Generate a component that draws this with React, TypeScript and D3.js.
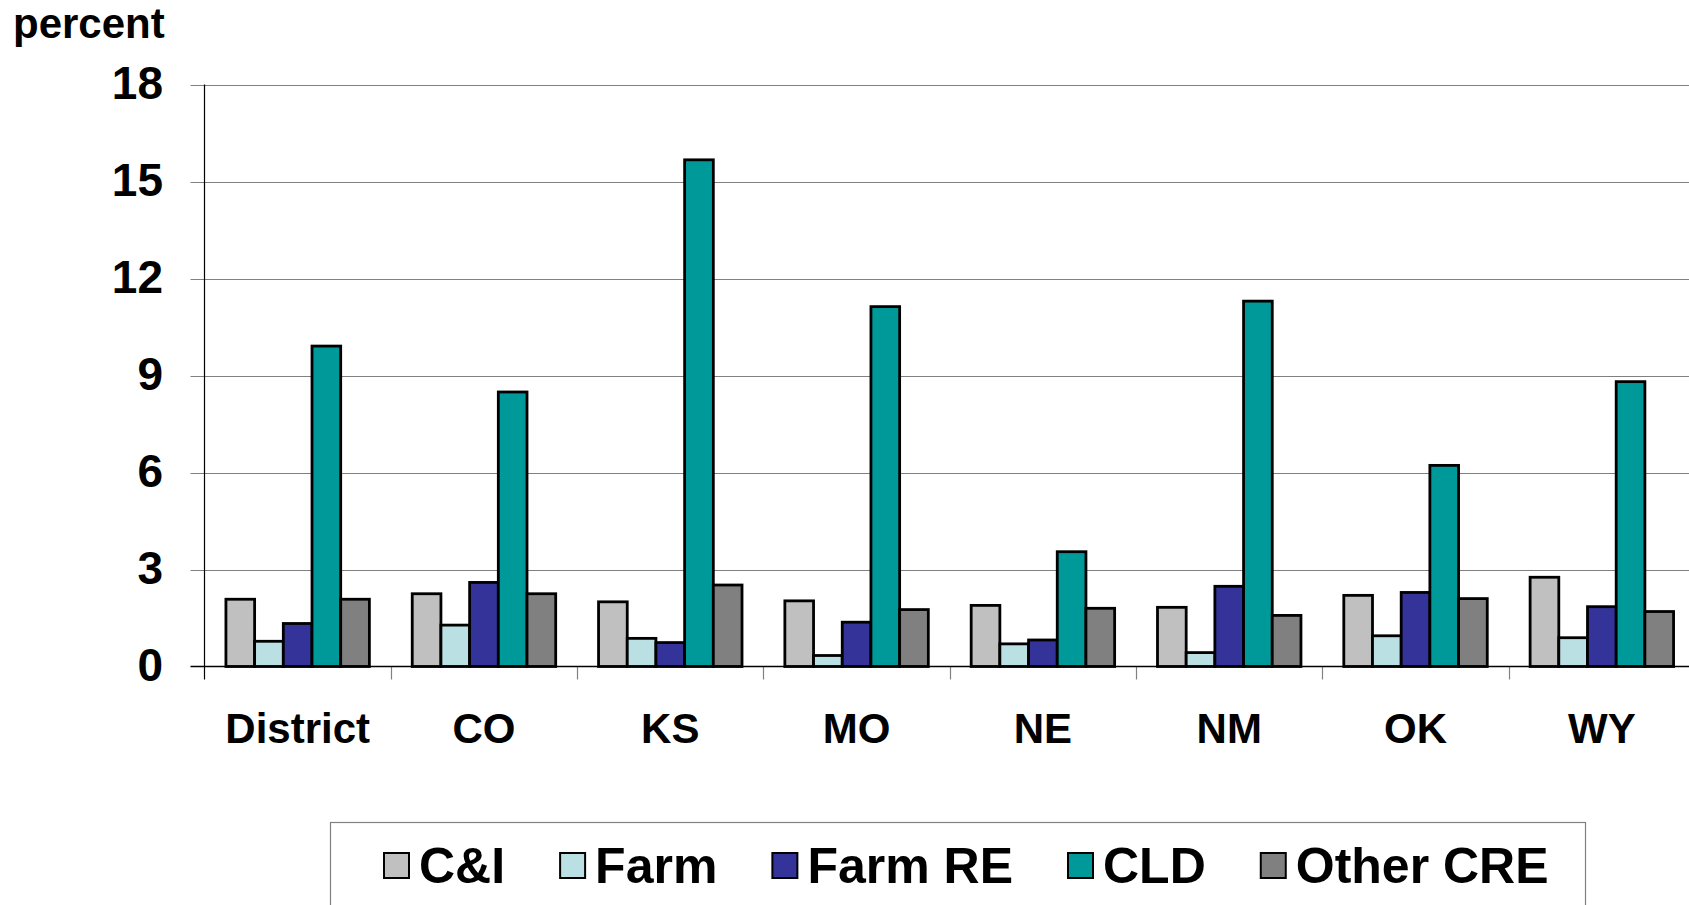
import React, { useEffect, useRef } from "react";
import * as d3 from "d3";

// Loan categories (groups along the x axis)
const states = ["District", "CO", "KS", "MO", "NE", "NM", "OK", "WY"];

// Loan types drawn as bars within each group
const loanTypes = ["C&I", "Farm", "Farm RE", "CLD", "Other CRE"];

// Percent values per loan type, ordered like `states`
const cAndI = [2.08, 2.25, 2.0, 2.03, 1.89, 1.83, 2.2, 2.76];
const farm = [0.78, 1.28, 0.87, 0.34, 0.7, 0.43, 0.95, 0.89];
const farmRE = [1.33, 2.6, 0.74, 1.37, 0.82, 2.48, 2.29, 1.85];
const cld = [9.91, 8.49, 15.67, 11.13, 3.55, 11.3, 6.22, 8.81];
const otherCRE = [2.08, 2.25, 2.52, 1.76, 1.8, 1.58, 2.1, 1.7];

const yTicks = [0, 3, 6, 9, 12, 15, 18];

const seriesValues = [cAndI, farm, farmRE, cld, otherCRE];
const seriesColors = ["#C0C0C0", "#BBE0E3", "#333399", "#009999", "#808080"];

const W = 1689;
const H = 905;
const FONT = "'Liberation Sans', Arial, Helvetica, sans-serif";

export default function App() {
  const ref = useRef<SVGSVGElement | null>(null);

  useEffect(() => {
    const svg = d3.select(ref.current);
    svg.selectAll("*").remove();

    const left = 204.5;
    const right = 1695;
    const top = 84.5;
    const bottom = 666.5;

    const x0 = d3.scaleBand<string>().domain(states).range([left, right]).padding(0);
    const bw = x0.bandwidth();
    const x1 = d3
      .scaleBand<string>()
      .domain(loanTypes)
      .range([bw * 0.115, bw * 0.885])
      .padding(0);
    const y = d3.scaleLinear().domain([0, 18]).range([bottom, top]);

    // gridlines with short ticks left of the axis
    const grid = svg.append("g");
    yTicks.forEach((t) => {
      if (t === 0) return;
      grid
        .append("line")
        .attr("x1", left - 14)
        .attr("x2", W)
        .attr("y1", Math.round(y(t)) + 0.5)
        .attr("y2", Math.round(y(t)) + 0.5)
        .attr("stroke", "#808080")
        .attr("stroke-width", 1.2);
    });

    // y tick labels
    svg
      .append("g")
      .selectAll("text")
      .data(yTicks)
      .join("text")
      .attr("x", 163)
      .attr("y", (d) => y(d) + 14)
      .attr("text-anchor", "end")
      .attr("font-family", FONT)
      .attr("font-weight", "bold")
      .attr("font-size", 46)
      .text((d) => String(d));

    // category ticks below the baseline
    svg
      .append("g")
      .selectAll("line")
      .data(states.slice(1))
      .join("line")
      .attr("x1", (d) => Math.round(x0(d) as number) + 0.5)
      .attr("x2", (d) => Math.round(x0(d) as number) + 0.5)
      .attr("y1", bottom)
      .attr("y2", bottom + 13)
      .attr("stroke", "#808080")
      .attr("stroke-width", 1.2);

    // bars
    const groups = svg
      .append("g")
      .selectAll("g")
      .data(states)
      .join("g")
      .attr("transform", (d) => `translate(${x0(d)},0)`);

    groups
      .selectAll("rect")
      .data((_, i) =>
        loanTypes.map((k, j) => ({ key: k, value: seriesValues[j][i], color: seriesColors[j] }))
      )
      .join("rect")
      .attr("x", (d) => x1(d.key) as number)
      .attr("width", x1.bandwidth())
      .attr("y", (d) => y(d.value))
      .attr("height", (d) => bottom - y(d.value))
      .attr("fill", (d) => d.color)
      .attr("stroke", "#000")
      .attr("stroke-width", 2.8);

    // axes lines
    svg
      .append("line")
      .attr("x1", left - 14)
      .attr("x2", W)
      .attr("y1", bottom)
      .attr("y2", bottom)
      .attr("stroke", "#000")
      .attr("stroke-width", 1.4);
    svg
      .append("line")
      .attr("x1", left)
      .attr("x2", left)
      .attr("y1", top)
      .attr("y2", bottom + 13)
      .attr("stroke", "#000")
      .attr("stroke-width", 1.2);

    // category labels
    svg
      .append("g")
      .selectAll("text")
      .data(states)
      .join("text")
      .attr("x", (d) => (x0(d) as number) + bw / 2)
      .attr("y", 742.5)
      .attr("text-anchor", "middle")
      .attr("font-family", FONT)
      .attr("font-weight", "bold")
      .attr("font-size", 42)
      .text((d) => d);

    // axis title
    svg
      .append("text")
      .attr("x", 13)
      .attr("y", 38)
      .attr("font-family", FONT)
      .attr("font-weight", "bold")
      .attr("font-size", 42)
      .text("percent");

    // legend
    svg
      .append("rect")
      .attr("x", 330.5)
      .attr("y", 822.5)
      .attr("width", 1255)
      .attr("height", 120)
      .attr("fill", "#fff")
      .attr("stroke", "#808080")
      .attr("stroke-width", 1.2);

    let lx = 384;
    const gap = 55;
    loanTypes.forEach((k, j) => {
      svg
        .append("rect")
        .attr("x", lx)
        .attr("y", 853)
        .attr("width", 25)
        .attr("height", 25)
        .attr("fill", seriesColors[j])
        .attr("stroke", "#000")
        .attr("stroke-width", 2);
      const t = svg
        .append("text")
        .attr("x", lx + 35)
        .attr("y", 882.5)
        .attr("font-family", FONT)
        .attr("font-weight", "bold")
        .attr("font-size", 50)
        .text(k);
      const w = (t.node() as SVGTextElement).getComputedTextLength();
      lx += 35 + w + gap;
    });
  }, []);

  return (
    <svg
      ref={ref}
      width={W}
      height={H}
      style={{ position: "absolute", left: 0, top: 0, background: "#fff" }}
    />
  );
}
